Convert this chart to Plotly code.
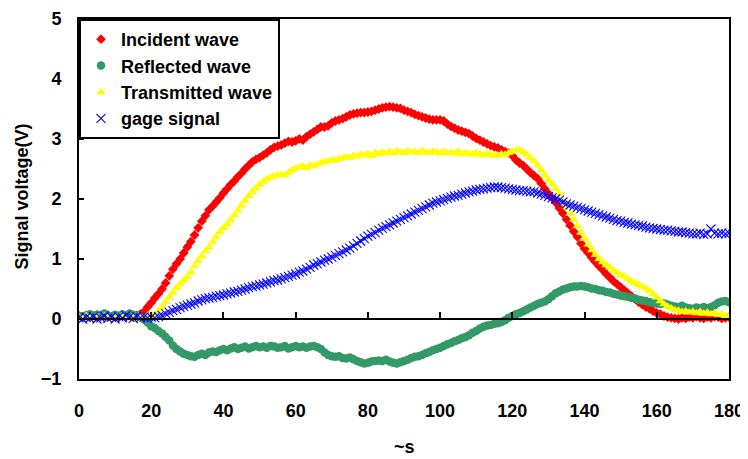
import plotly.graph_objects as go

time_us = list(range(0, 181))

incident = [
    0.05, 0.04, 0.06, 0.03, 0.05, 0.07, 0.04, 0.05, 0.06, 0.03,
    0.05, 0.04, 0.06, 0.05, 0.07, 0.05, 0.06, 0.08, 0.12, 0.20,
    0.27, 0.35, 0.42, 0.50, 0.60, 0.72, 0.83, 0.92, 1.00, 1.10,
    1.20, 1.29, 1.40, 1.52, 1.63, 1.72, 1.82, 1.88, 1.95, 2.02,
    2.10, 2.17, 2.24, 2.30, 2.37, 2.43, 2.50, 2.56, 2.62, 2.66,
    2.69, 2.73, 2.77, 2.82, 2.86, 2.88, 2.90, 2.93, 2.96, 2.95,
    2.97, 3.00, 2.98, 3.04, 3.08, 3.12, 3.16, 3.20, 3.20, 3.22,
    3.27, 3.30, 3.32, 3.34, 3.37, 3.40, 3.42, 3.43, 3.44, 3.44,
    3.45, 3.46, 3.48, 3.50, 3.52, 3.53, 3.54, 3.53, 3.52, 3.51,
    3.48, 3.46, 3.44, 3.41, 3.39, 3.37, 3.35, 3.33, 3.32, 3.32,
    3.32, 3.30, 3.25, 3.21, 3.18, 3.15, 3.13, 3.11, 3.09, 3.05,
    3.01, 2.98, 2.95, 2.92, 2.89, 2.87, 2.85, 2.82, 2.79, 2.77,
    2.72, 2.65, 2.60, 2.56, 2.50, 2.44, 2.39, 2.34, 2.26, 2.17,
    2.09, 2.02, 1.94, 1.85, 1.76, 1.66, 1.56, 1.46, 1.37, 1.26,
    1.17, 1.10, 1.02, 0.95, 0.88, 0.82, 0.75, 0.69, 0.63, 0.58,
    0.53, 0.48, 0.43, 0.38, 0.33, 0.28, 0.24, 0.20, 0.17, 0.13,
    0.10, 0.08, 0.05, 0.03, 0.02, 0.01, 0.00, 0.02, 0.01, 0.03,
    0.02, 0.04, 0.02, 0.01, 0.03, 0.02, 0.04, 0.03, 0.01, 0.02, 0.03,
]

reflected = [
    0.05, 0.03, 0.06, 0.08, 0.04, 0.07, 0.05, 0.09, 0.06, 0.04,
    0.07, 0.05, 0.08, 0.06, 0.09, 0.07, 0.05, 0.03, -0.01, -0.06,
    -0.12, -0.15, -0.20, -0.24, -0.30, -0.36, -0.44, -0.50, -0.54, -0.58,
    -0.60, -0.62, -0.63, -0.60, -0.58, -0.60, -0.56, -0.54, -0.55, -0.52,
    -0.50, -0.52, -0.49, -0.47, -0.50, -0.48, -0.46, -0.49, -0.47, -0.45,
    -0.47, -0.46, -0.48, -0.45, -0.46, -0.48, -0.47, -0.45, -0.49, -0.47,
    -0.45, -0.47, -0.46, -0.48, -0.46, -0.45, -0.47, -0.50, -0.56, -0.60,
    -0.62, -0.63, -0.62, -0.65, -0.66, -0.64, -0.67, -0.70, -0.72, -0.74,
    -0.73, -0.71, -0.70, -0.69, -0.70, -0.68, -0.71, -0.73, -0.74, -0.72,
    -0.70, -0.68, -0.65, -0.63, -0.62, -0.60, -0.57, -0.55, -0.52, -0.50,
    -0.48, -0.45, -0.42, -0.40, -0.37, -0.35, -0.32, -0.30, -0.27, -0.23,
    -0.20, -0.16, -0.13, -0.11, -0.10, -0.08, -0.07, -0.05, -0.02, 0.02,
    0.05, 0.08, 0.10, 0.13, 0.16, 0.19, 0.22, 0.25, 0.27, 0.29,
    0.33, 0.38, 0.43, 0.46, 0.49, 0.51, 0.53, 0.54, 0.54, 0.55,
    0.54, 0.53, 0.51, 0.50, 0.48, 0.47, 0.45, 0.44, 0.42, 0.41,
    0.39, 0.38, 0.37, 0.35, 0.34, 0.32, 0.31, 0.30, 0.28, 0.27,
    0.26, 0.25, 0.26, 0.24, 0.22, 0.21, 0.20, 0.22, 0.19, 0.18,
    0.17, 0.19, 0.18, 0.20, 0.18, 0.20, 0.23, 0.27, 0.29, 0.30, 0.28,
]

transmitted = [
    0.03, 0.00, 0.05, 0.02, -0.02, 0.04, 0.01, 0.05, 0.03, -0.01,
    0.04, 0.02, 0.06, 0.03, 0.00, 0.05, -0.02, 0.04, 0.03, 0.06,
    0.05, 0.08, 0.13, 0.20, 0.28, 0.36, 0.44, 0.52, 0.58, 0.64,
    0.70, 0.78, 0.88, 0.97, 1.05, 1.13, 1.20, 1.28, 1.37, 1.45,
    1.52, 1.58, 1.65, 1.73, 1.81, 1.89, 1.97, 2.05, 2.12, 2.18,
    2.24, 2.29, 2.33, 2.36, 2.38, 2.40, 2.41, 2.40, 2.44, 2.48,
    2.51, 2.53, 2.55, 2.52, 2.56, 2.55, 2.58, 2.60, 2.62, 2.63,
    2.65, 2.64, 2.67, 2.68, 2.70, 2.69, 2.72, 2.71, 2.74, 2.73,
    2.76, 2.72, 2.77, 2.75, 2.78, 2.76, 2.79, 2.77, 2.80, 2.78,
    2.77, 2.80, 2.78, 2.79, 2.77, 2.80, 2.78, 2.77, 2.79, 2.78,
    2.76, 2.79, 2.77, 2.78, 2.76, 2.79, 2.75, 2.77, 2.76, 2.74,
    2.77, 2.75, 2.73, 2.76, 2.74, 2.72, 2.73, 2.75, 2.74, 2.77,
    2.79, 2.81, 2.82, 2.78, 2.74, 2.69, 2.63, 2.56, 2.48, 2.40,
    2.32, 2.25, 2.17, 2.09, 1.98, 1.87, 1.76, 1.66, 1.55, 1.44,
    1.34, 1.24, 1.15, 1.07, 1.00, 0.95, 0.90, 0.86, 0.81, 0.77,
    0.74, 0.71, 0.67, 0.63, 0.60, 0.57, 0.54, 0.51, 0.47, 0.42,
    0.36, 0.30, 0.25, 0.21, 0.18, 0.15, 0.14, 0.12, 0.13, 0.11,
    0.12, 0.10, 0.12, 0.09, 0.11, 0.08, 0.10, 0.07, 0.08, 0.05, 0.04,
]

gage = [
    0.02, 0.00, 0.03, 0.01, 0.04, 0.00, 0.02, 0.05, 0.01, 0.03,
    0.00, 0.04, 0.02, 0.06, 0.03, 0.01, 0.04, 0.02, 0.03, 0.02,
    0.03, 0.02, 0.04, 0.06, 0.09, 0.11, 0.14, 0.16, 0.19, 0.21,
    0.23, 0.25, 0.27, 0.30, 0.32, 0.34, 0.35, 0.36, 0.38, 0.39,
    0.40, 0.42, 0.43, 0.45, 0.46, 0.48, 0.50, 0.52, 0.54, 0.55,
    0.57, 0.58, 0.60, 0.62, 0.64, 0.65, 0.67, 0.69, 0.71, 0.73,
    0.75, 0.78, 0.80, 0.83, 0.86, 0.90, 0.92, 0.95, 0.98, 1.00,
    1.03, 1.06, 1.09, 1.12, 1.15, 1.18, 1.22, 1.26, 1.30, 1.34,
    1.38, 1.41, 1.44, 1.48, 1.51, 1.54, 1.57, 1.60, 1.63, 1.66,
    1.69, 1.72, 1.75, 1.78, 1.81, 1.84, 1.87, 1.90, 1.93, 1.95,
    1.97, 1.99, 2.01, 2.03, 2.05, 2.06, 2.08, 2.10, 2.12, 2.13,
    2.15, 2.16, 2.17, 2.18, 2.19, 2.20, 2.20, 2.19, 2.18, 2.17,
    2.16, 2.15, 2.14, 2.14, 2.13, 2.12, 2.12, 2.10, 2.08, 2.06,
    2.04, 2.02, 2.00, 1.98, 1.95, 1.92, 1.90, 1.88, 1.86, 1.84,
    1.82, 1.80, 1.78, 1.76, 1.74, 1.72, 1.70, 1.68, 1.66, 1.64,
    1.63, 1.61, 1.60, 1.58, 1.57, 1.56, 1.55, 1.53, 1.52, 1.51,
    1.50, 1.49, 1.48, 1.48, 1.47, 1.46, 1.45, 1.45, 1.44, 1.43,
    1.42, 1.42, 1.43, 1.41, 1.42, 1.50, 1.43, 1.42, 1.43, 1.42, 1.43,
]

x_ticks = [0, 20, 40, 60, 80, 100, 120, 140, 160, 180]
y_ticks = [-1, 0, 1, 2, 3, 4, 5]

x_title = "~s"
y_title = "Signal voltage(V)"

FONT = "Liberation Sans, Arial, sans-serif"
BOLD18 = dict(family=FONT, size=18, color="black", weight="bold")

fig = go.Figure()
fig.add_trace(go.Scatter(x=time_us, y=incident, mode="markers", name="Incident wave",
                         marker=dict(symbol="diamond", size=7.5, color="#FF0000")))
fig.add_trace(go.Scatter(x=time_us, y=reflected, mode="markers", name="Reflected wave",
                         marker=dict(symbol="circle", size=8.5, color="#339966")))
fig.add_trace(go.Scatter(x=time_us, y=transmitted, mode="markers", name="Transmitted wave",
                         marker=dict(symbol="triangle-up", size=8.5, color="#FFFF00")))
fig.add_trace(go.Scatter(x=time_us, y=gage, mode="markers", name="gage signal",
                         marker=dict(symbol="x-thin", size=9, color="#0000FF",
                                     line=dict(color="#0000FF", width=1.1))))
# empty trace so the zero-crossing axis (x2) is drawn
fig.add_trace(go.Scatter(x=[], y=[], xaxis="x2", yaxis="y", showlegend=False,
                         hoverinfo="skip", mode="markers"))

fig.update_layout(
    width=740, height=451,
    margin=dict(l=71, r=19, t=11, b=80, autoexpand=False),
    paper_bgcolor="white", plot_bgcolor="white",
    font=dict(family=FONT, size=18, color="black"),
    showlegend=True,
    legend=dict(x=0, y=1, xanchor="left", yanchor="top",
                bordercolor="black", borderwidth=2, bgcolor="white",
                font=dict(family=FONT, size=18, color="black", weight="bold"),
                itemwidth=30, tracegroupgap=0),
    xaxis=dict(range=[0, 180], tickvals=x_ticks, ticks="", showgrid=False, zeroline=False,
               showline=True, linecolor="black", linewidth=2, mirror=True,
               automargin=False, tickfont=BOLD18, ticklabelstandoff=14),
    xaxis2=dict(range=[0, 180], overlaying="x", anchor="free", position=1/6, side="bottom",
                tickvals=x_ticks, ticks="inside", ticklen=6, tickwidth=2, tickcolor="black",
                showticklabels=False, showgrid=False, zeroline=False,
                showline=True, linecolor="black", linewidth=2, automargin=False),
    yaxis=dict(range=[-1, 5], tickvals=y_ticks, ticks="inside", ticklen=5, tickwidth=2,
               tickcolor="black", showgrid=False, zeroline=False,
               showline=True, linecolor="black", linewidth=2, mirror=True,
               automargin=False, tickfont=BOLD18, ticklabelstandoff=12),
    annotations=[
        dict(text=x_title, xref="paper", yref="paper", x=0.5, y=0, yshift=-68,
             xanchor="center", yanchor="middle", showarrow=False, font=BOLD18),
        dict(text=y_title, xref="paper", yref="paper", x=0, y=0.507, xshift=-57,
             xanchor="center", yanchor="middle", textangle=-90, showarrow=False,
             font=dict(family=FONT, size=18, color="black", weight="bold")),
    ],
)

fig.write_html("out.html")
